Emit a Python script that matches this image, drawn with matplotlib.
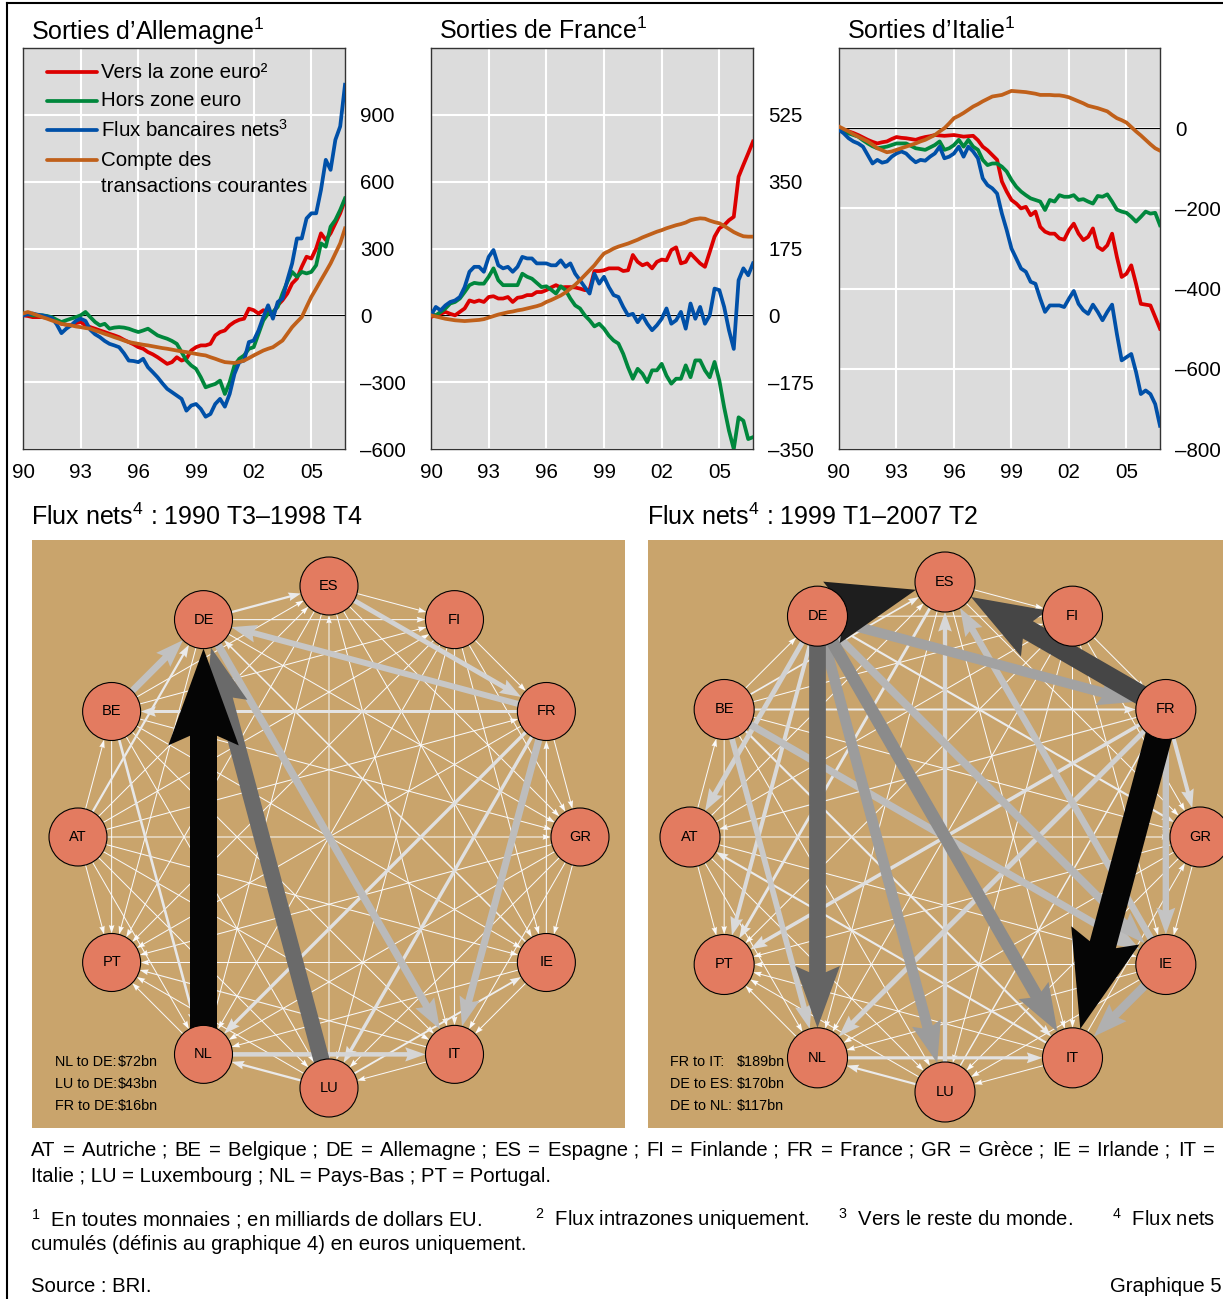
import numpy as np
import matplotlib
matplotlib.use("Agg")
import matplotlib.pyplot as plt
from matplotlib.patches import FancyArrow, Circle
from matplotlib.lines import Line2D

plt.rcParams['font.family'] = ['Liberation Sans', 'DejaVu Sans']
plt.rcParams['mathtext.fontset'] = 'custom'
plt.rcParams['mathtext.rm'] = 'Liberation Sans'
plt.rcParams['mathtext.it'] = 'Liberation Sans:italic'
plt.rcParams['mathtext.bf'] = 'Liberation Sans:bold'

# DONNÉES : flux cumulés trimestriels, 1990 T1 - 2006 T4 (milliards de dollars EU)
trimestres = 1990 + 0.25 * np.arange(68)
x_ticks = [1990, 1993, 1996, 1999, 2002, 2005]
x_labels = ['90', '93', '96', '99', '02', '05']
noms_series = ['Vers la zone euro²', 'Hors zone euro', 'Flux bancaires nets$^{3}$',
               'Compte des', 'transactions courantes']

de_zone = [0, -3, -8, -8, -8, -10, -15, -25, -38, -42, -45, -35, -30, -45, -53, -60,
           -68, -75, -83, -90, -98, -110, -120, -130, -143, -150, -165, -175, -188, -203, -218, -210,
           -188, -203, -195, -158, -143, -135, -135, -128, -90, -75, -68, -45, -30, -20, -15, 30,
           23, 8, 23, 15, 8, 45, 68, 98, 143, 165, 218, 263, 255, 300, 368, 338, 368, 413, 458, 518]
de_hors = [8, 5, 0, 0, 0, -3, -8, -20, -30, -22, -15, -8, 0, 15, -8, -30,
           -45, -38, -60, -55, -53, -55, -60, -68, -75, -68, -60, -75, -90, -98, -105, -115,
           -128, -165, -203, -225, -240, -278, -323, -315, -308, -293, -353, -300, -225, -195, -180, -150,
           -143, -83, -23, 8, 15, 38, 98, 150, 195, 173, 195, 188, 195, 225, 323, 308, 398, 428, 473, 525]
de_banc = [0, 5, 8, 3, 0, -5, -12, -40, -80, -60, -45, -25, -15, -25, -65, -85,
           -98, -115, -128, -135, -143, -170, -203, -205, -210, -195, -233, -255, -278, -305, -330, -345,
           -360, -375, -428, -405, -398, -420, -455, -443, -398, -375, -410, -353, -263, -210, -203, -120,
           -113, -68, -8, 45, -15, 60, 75, 158, 233, 345, 345, 435, 458, 458, 563, 698, 653, 788, 848, 1035]
de_cpte = [8, 15, 8, 0, -8, -15, -23, -30, -38, -42, -45, -50, -53, -57, -60, -68,
           -75, -83, -90, -98, -105, -113, -120, -124, -128, -132, -135, -139, -143, -147, -150, -154,
           -158, -162, -165, -169, -173, -177, -180, -188, -195, -203, -210, -212, -214, -209, -203, -192,
           -180, -169, -158, -150, -143, -128, -113, -83, -53, -30, -8, 38, 83, 120, 158, 195, 233, 278, 323, 390]

fr_zone = [-4, 0, 4, 9, 4, 0, 9, 18, 39, 35, 39, 35, 48, 50, 44, 44,
           48, 35, 46, 48, 53, 53, 61, 61, 66, 73, 79, 73, 74, 74, 73, 70,
           66, 67, 116, 116, 118, 123, 123, 123, 116, 118, 158, 140, 131, 136, 123, 140,
           146, 144, 171, 178, 136, 140, 162, 149, 136, 127, 166, 206, 228, 236, 249, 258, 363, 394, 424, 455]
fr_hors = [4, 0, 9, 18, 31, 35, 44, 61, 79, 85, 83, 83, 101, 123, 92, 79,
           79, 79, 79, 109, 101, 96, 85, 74, 76, 67, 57, 76, 66, 44, 26, 18,
           0, -13, -29, -22, -35, -53, -66, -74, -101, -136, -166, -140, -153, -175, -144, -144,
           -127, -158, -179, -166, -166, -131, -162, -118, -118, -144, -162, -122, -171, -241, -302, -350,
           -267, -276, -324, -319]
fr_banc = [0, 22, 13, 26, 35, 39, 48, 74, 114, 127, 127, 114, 153, 171, 131, 123,
           127, 114, 127, 153, 149, 149, 136, 136, 136, 131, 131, 144, 127, 136, 109, 92,
           74, 57, 109, 83, 101, 74, 53, 48, 22, 0, 4, -18, 0, -22, -39, -26,
           -9, 18, -22, -13, 9, -35, 31, -9, 22, -22, 0, 70, 66, 22, -39, -88, 92, 123, 105, 136]
fr_cpte = [0, -3, -6, -9, -11, -13, -14, -15, -14, -13, -12, -10, -6, -2, 2, 5,
           8, 10, 13, 15, 18, 21, 24, 28, 35, 40, 46, 52, 60, 70, 80, 92,
           105, 118, 131, 147, 162, 168, 175, 180, 184, 188, 193, 198, 204, 209, 214, 219,
           223, 228, 232, 236, 239, 243, 249, 252, 254, 253, 248, 244, 241, 234, 226, 218, 212, 207, 206, 206]

it_zone = [0, -4, -8, -12, -17, -23, -29, -34, -38, -35, -33, -27, -22, -24, -25, -27,
           -29, -25, -22, -20, -17, -18, -19, -18, -17, -19, -21, -20, -19, -30, -46, -55,
           -67, -79, -133, -158, -179, -188, -200, -196, -217, -208, -246, -258, -263, -263, -275, -278,
           -254, -238, -263, -279, -271, -250, -296, -304, -292, -263, -321, -371, -363, -342, -388, -438,
           -440, -442, -471, -500]
it_hors = [0, -6, -13, -17, -21, -30, -38, -45, -50, -48, -46, -42, -38, -38, -38, -44,
           -50, -52, -54, -48, -42, -33, -54, -50, -42, -29, -46, -29, -46, -54, -79, -92,
           -88, -88, -96, -108, -129, -146, -158, -167, -175, -179, -183, -204, -179, -183, -167, -171,
           -171, -167, -179, -177, -183, -188, -169, -171, -165, -183, -203, -208, -211, -221, -233, -221,
           -208, -213, -211, -242]
it_banc = [-4, -13, -25, -33, -38, -46, -67, -88, -79, -86, -83, -71, -63, -58, -63, -75,
           -85, -79, -81, -71, -63, -46, -75, -71, -63, -46, -71, -46, -58, -75, -125, -142,
           -150, -163, -213, -254, -300, -325, -350, -358, -383, -388, -425, -458, -442, -442, -442, -446,
           -425, -406, -438, -454, -463, -440, -458, -479, -458, -440, -513, -579, -571, -563, -608, -663,
           -654, -663, -688, -742]
it_cpte = [4, -2, -8, -15, -21, -27, -33, -41, -50, -55, -60, -58, -54, -50, -46, -42,
           -38, -33, -29, -23, -17, -8, 0, 12, 25, 31, 38, 46, 54, 60, 67, 73,
           79, 81, 83, 88, 93, 92, 91, 90, 88, 86, 83, 83, 83, 82, 82, 80,
           77, 72, 67, 62, 56, 53, 50, 46, 42, 33, 25, 20, 14, 3, -8, -18, -29, -40, -50, -56]

# réseau des flux nets (milliards d'euros), pays dans l'ordre du cercle
pays = ['AT', 'BE', 'DE', 'ES', 'FI', 'FR', 'GR', 'IE', 'IT', 'LU', 'NL', 'PT']

g_src = ['NL', 'LU', 'DE', 'FR', 'BE', 'FR', 'ES', 'NL', 'FR', 'FR', 'FR', 'BE', 'DE', 'AT',
         'LU', 'LU', 'IE', 'IT', 'IE', 'LU', 'FI', 'DE']
g_dst = ['DE', 'DE', 'IT', 'IT', 'DE', 'DE', 'FR', 'IT', 'NL', 'LU', 'BE', 'NL', 'ES', 'DE',
         'NL', 'IE', 'DE', 'PT', 'FR', 'ES', 'IT', 'FI']
g_val = [72, 43, 20, 19, 18, 16, 13, 12, 9, 9, 8, 7, 6, 6, 6, 5, 4, 3, 3, 2.5, 3, 3]
g_mineur = 1.5

d_src = ['FR', 'DE', 'FR', 'DE', 'DE', 'DE', 'DE', 'IE', 'DE', 'BE', 'IE', 'FR', 'BE', 'FR',
         'DE', 'LU', 'FR', 'DE', 'FR', 'NL', 'ES', 'IT', 'BE', 'DE', 'LU', 'BE', 'FR', 'BE',
         'LU', 'IT']
d_dst = ['IT', 'ES', 'ES', 'NL', 'IT', 'LU', 'FR', 'IT', 'IE', 'IE', 'ES', 'IE', 'NL', 'NL',
         'AT', 'ES', 'GR', 'PT', 'PT', 'IT', 'PT', 'AT', 'IT', 'GR', 'NL', 'FR', 'AT', 'ES',
         'FR', 'GR']
d_val = [189, 170, 140, 117, 88, 75, 70, 60, 55, 50, 47, 45, 40, 35,
         35, 30, 28, 28, 25, 22, 20, 15, 15, 15, 15, 14, 8, 12, 10, 5]
d_mineur = 4

g_notes = [('NL', 'DE'), ('LU', 'DE'), ('FR', 'DE')]
d_notes = [('FR', 'IT'), ('DE', 'ES'), ('DE', 'NL')]

W, H = 1223, 1299
COULEURS = ['#DC0000', '#00873C', '#0050A8', '#C0601A']
GRIS = '#DCDCDC'
SABLE = '#C9A46C'
NOEUD = '#E37B60'
EP = 2.7  # épaisseur des courbes

fig = plt.figure(figsize=(W / 100, H / 100), dpi=100)


def px(l, t, r, b):
    return [l / W, 1 - b / H, (r - l) / W, (b - t) / H]


def fmt(v):
    return '–' + str(abs(v)) if v < 0 else str(v)


def panneau(rect, titre, series, ylim, yticks, legende=False):
    ax = fig.add_axes(px(*rect))
    ax.set_facecolor(GRIS)
    for vals, col in zip(series, COULEURS):
        ax.plot(trimestres, vals, color=col, lw=EP, solid_joinstyle='round', zorder=3)
    ax.axhline(0, color='black', lw=0.8, zorder=2)
    ax.set_xlim(1990, 2006.75)
    ax.set_ylim(*ylim)
    ax.set_xticks(x_ticks)
    ax.set_xticklabels(x_labels)
    ax.set_yticks(yticks)
    ax.set_yticklabels([fmt(v) for v in yticks])
    ax.yaxis.tick_right()
    ax.tick_params(length=0, labelsize=14.8)
    ax.tick_params(axis='y', pad=11)
    ax.tick_params(axis='x', pad=10)
    ax.grid(True, color='white', lw=1.5)
    ax.set_axisbelow(True)
    for s in ax.spines.values():
        s.set_color('#333333')
        s.set_linewidth(1)
    fig.text((rect[0] + 8) / W, 1 - 31 / H, titre, fontsize=18, va='center')

    if legende:
        # légende à la main : traits à gauche, texte aligné
        lignes_y = [72, 101, 130, 160]
        for i, yy in enumerate(lignes_y):
            yf = 1 - (yy - rect[1]) / (rect[3] - rect[1])
            ax.plot([0.0745, 0.23], [yf, yf], transform=ax.transAxes,
                    color=COULEURS[i], lw=EP, solid_capstyle='round', zorder=4)
            ax.text(0.242, yf, noms_series[i], transform=ax.transAxes,
                    fontsize=14.8, va='center', zorder=4)
        yf = 1 - (186 - rect[1]) / (rect[3] - rect[1])
        ax.text(0.242, yf, noms_series[4], transform=ax.transAxes,
                fontsize=14.8, va='center', zorder=4)
    return ax


panneau((23, 48, 345, 449), 'Sorties d’Allemagne$^{1}$',
        [de_zone, de_hors, de_banc, de_cpte], (-600, 1200),
        [-600, -300, 0, 300, 600, 900], legende=True)
panneau((431, 48, 753, 449), 'Sorties de France$^{1}$',
        [fr_zone, fr_hors, fr_banc, fr_cpte], (-350, 700),
        [-350, -175, 0, 175, 350, 525])
panneau((839, 48, 1160, 449), 'Sorties d’Italie$^{1}$',
        [it_zone, it_hors, it_banc, it_cpte], (-800, 200),
        [-800, -600, -400, -200, 0])


def reseau(rect, centre, R, rn, src, dst, val, mineur, notes, x_note, x_val):
    l, t, r, b = rect
    cx, cy = centre
    ax = fig.add_axes(px(l, t, r, b))
    ax.set_xlim(l - cx, r - cx)
    ax.set_ylim(cy - b, cy - t)
    ax.set_facecolor(SABLE)
    ax.set_xticks([])
    ax.set_yticks([])
    for s in ax.spines.values():
        s.set_visible(False)

    pos = {}
    for k, p in enumerate(pays):
        th = np.deg2rad(180 - 30 * k)
        pos[p] = (R * np.cos(th), R * np.sin(th))

    vmax = max(val)
    vus = {frozenset(pr) for pr in zip(src, dst)}
    aretes = list(zip(src, dst, val))
    for i in range(len(pays)):
        for j in range(i + 1, len(pays)):
            if frozenset((pays[i], pays[j])) not in vus:
                aretes.append((pays[i], pays[j], mineur))
    aretes.sort(key=lambda e: e[2])

    for s, d, v in aretes:
        x0, y0 = pos[s]
        x1, y1 = pos[d]
        L = np.hypot(x1 - x0, y1 - y0)
        ux, uy = (x1 - x0) / L, (y1 - y0) / L
        ex, ey = x1 - ux * rn, y1 - uy * rn
        f = v / vmax
        w = max(1.0, 27 * f)
        g = 1 - 0.98 * f
        ax.add_patch(FancyArrow(x0, y0, ex - x0, ey - y0, width=w,
                                head_width=2.5 * w + 3, head_length=3.4 * w + 5,
                                length_includes_head=True, overhang=0.1,
                                color=(g, g, g), lw=0, zorder=2))

    for p in pays:
        ax.add_patch(Circle(pos[p], rn, facecolor=NOEUD, edgecolor='black', lw=0.8, zorder=5))
        ax.text(*pos[p], p, ha='center', va='center', fontsize=10.5, zorder=6)

    valeurs = {(s, d): v for s, d, v in zip(src, dst, val)}
    for i, (s, d) in enumerate(notes):
        yy = 1 - (1062 + 22 * i) / H
        fig.text(x_note / W, yy, f'{s} to {d}:', fontsize=10.4, va='center')
        fig.text(x_val / W, yy, f'\\${valeurs[(s, d)]:g}bn', fontsize=10.4, va='center')


fig.text(31 / W, 1 - 517 / H, 'Flux nets$^{4}$ : 1990 T3–1998 T4', fontsize=18, va='center')
fig.text(647 / W, 1 - 517 / H, 'Flux nets$^{4}$ : 1999 T1–2007 T2', fontsize=18, va='center')

reseau((32, 540, 625, 1128), (329, 837), 251, 29, g_src, g_dst, g_val, g_mineur,
       g_notes, 55, 118)
reseau((648, 540, 1223, 1128), (945, 837), 255, 30, d_src, d_dst, d_val, d_mineur,
       d_notes, 670, 737)

# notes de bas de page
renderer = fig.canvas.get_renderer()


def justifie(mots, y, x0, x1, size):
    objs = [fig.text(0, 1 - y / H, m, fontsize=size, va='center') for m in mots]
    larg = [o.get_window_extent(renderer).width for o in objs]
    ecart = (x1 - x0 - sum(larg)) / (len(objs) - 1)
    x = x0
    for o, w in zip(objs, larg):
        o.set_x(x / W)
        x += w + ecart


TAILLE = 14.6
ligne1 = ['AT', '=', 'Autriche ;', 'BE', '=', 'Belgique ;', 'DE', '=', 'Allemagne ;',
          'ES', '=', 'Espagne ;', 'FI', '=', 'Finlande ;', 'FR', '=', 'France ;', 'GR', '=',
          'Grèce ;', 'IE', '=', 'Irlande ;', 'IT', '=']
justifie(ligne1, 1150, 31, 1215, TAILLE)
fig.text(31 / W, 1 - 1177 / H, 'Italie ; LU = Luxembourg ; NL = Pays-Bas ; PT = Portugal.',
         fontsize=TAILLE, va='center')

notes_txt = [(31, '$^{1}$  En toutes monnaies ; en milliards de dollars EU.'),
             (535, '$^{2}$  Flux intrazones uniquement.'),
             (838, '$^{3}$  Vers le reste du monde.'),
             (1112, '$^{4}$  Flux nets')]
for xx, txt in notes_txt:
    fig.text(xx / W, 1 - 1219 / H, txt, fontsize=TAILLE, va='center')
fig.text(31 / W, 1 - 1245 / H, 'cumulés (définis au graphique 4) en euros uniquement.',
         fontsize=TAILLE, va='center')
fig.text(31 / W, 1 - 1287 / H, 'Source : BRI.', fontsize=TAILLE, va='center')
fig.text(1222 / W, 1 - 1287 / H, 'Graphique 5', fontsize=TAILLE, va='center', ha='right')

# cadre
fig.add_artist(Line2D([7 / W, 7 / W], [0, 1 - 3 / H], color='black', lw=1.5,
                      transform=fig.transFigure))
fig.add_artist(Line2D([7 / W, 1], [1 - 3 / H, 1 - 3 / H], color='black', lw=1.5,
                      transform=fig.transFigure))

fig.savefig('out.png', dpi=100)
